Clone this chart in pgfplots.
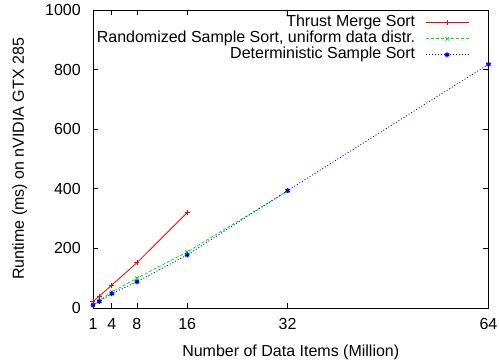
\documentclass[border=0pt]{standalone}
\usepackage{pgfplots}
\pgfplotsset{compat=1.18}
\usepackage{fontspec}
\setmainfont{Liberation Sans}

\definecolor{gpred}{RGB}{255,0,0}
\definecolor{gpgreen}{RGB}{0,235,0}
\definecolor{gpblue}{RGB}{0,0,255}

\begin{document}
\fontsize{16bp}{18bp}\selectfont
\begin{tikzpicture}
\begin{axis}[
  scale only axis,
  width=395.5bp, height=298bp,
  xmin=1, xmax=64,
  ymin=0, ymax=1000,
  xtick={1,4,8,16,32,64},
  ytick={0,200,400,600,800,1000},
  minor tick num=0,
  tick align=inside,
  tick pos=both,
  major tick length=5bp,
  axis line style={line width=0.9bp},
  every tick/.style={black, line width=0.8bp},
  /pgf/number format/assume math mode=true,
  /pgf/number format/1000 sep={},
  tick label style={inner sep=0pt, font=\fontsize{16bp}{18bp}\selectfont},
  yticklabel style={xshift=-12bp},
  xticklabel style={yshift=-10bp},
  every axis x label/.style={at={(axis description cs:0.5,-0.1644)}, anchor=base},
  every axis y label/.style={at={(axis description cs:-0.1745,0.5)}, rotate=90, anchor=base},
  xlabel={Number of Data Items (Million)},
  ylabel={Runtime (ms) on nVIDIA GTX 285},
  clip=false,
  legend plot pos=right,
  legend cell align=right,
  legend style={
    at={(axis description cs:0.9507,0.984)}, anchor=north east,
    draw=none, fill=none, inner sep=0pt, outer sep=0pt,
    column sep=10bp,
    nodes={inner sep=0pt, text height=11.5bp, text depth=4.5bp,
           font=\fontsize{16bp}{18bp}\selectfont},
  },
  legend image code/.code={%
    \draw[mark repeat=2,mark phase=2,#1]
      plot coordinates {(0bp,0bp) (21.5bp,0bp) (43bp,0bp)};},
]
\coordinate (sw) at (rel axis cs:0,0);
\coordinate (ne) at (rel axis cs:1,1);

\addplot[gpred, line width=0.8bp, mark=+, mark size=2.5bp,
  mark options={solid, line width=0.8bp}]
  coordinates {(1,21) (2,40) (4,77) (8,152) (16,320)};
\addlegendentry{Thrust Merge Sort}

\addplot[gpgreen, line width=0.8bp, dash pattern=on 3bp off 2bp,
  mark=x, mark size=2.5bp, mark options={solid, line width=0.8bp}]
  coordinates {(1,12) (2,25) (4,54) (8,100) (16,188) (32,392)};
\addlegendentry{Randomized Sample Sort, uniform data distr.}

\addplot[gpblue, line width=0.8bp, dash pattern=on 1bp off 2bp,
  mark=asterisk, mark size=2.5bp, mark options={solid, line width=1.3bp}]
  coordinates {(1,10) (2,22) (4,48) (8,88) (16,178) (32,394) (64,818)};
\addlegendentry{Deterministic Sample Sort}
\end{axis}
\pgfresetboundingbox
\path ([shift={(-93bp,-55bp)}]sw) rectangle ([shift={(10.5bp,10bp)}]ne);
\end{tikzpicture}
\end{document}
